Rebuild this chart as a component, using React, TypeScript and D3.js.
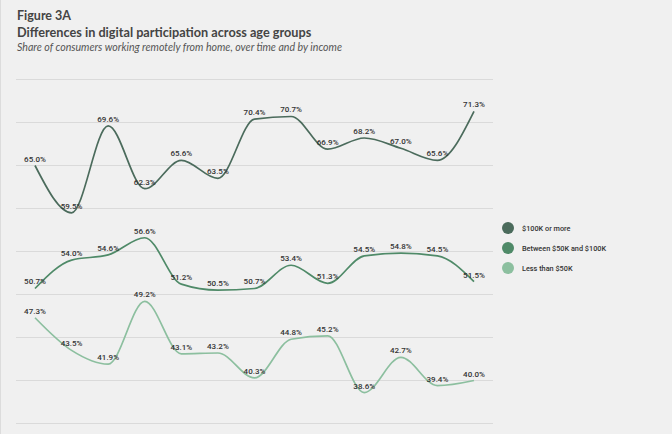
import React from "react";
import * as d3 from "d3";

const periods = d3.range(13);
const high = [65.0, 59.5, 69.6, 62.3, 65.6, 63.5, 70.4, 70.7, 66.9, 68.2, 67.0, 65.6, 71.3];
const mid = [50.7, 54.0, 54.6, 56.6, 51.2, 50.5, 50.7, 53.4, 51.3, 54.5, 54.8, 54.5, 51.5];
const low = [47.3, 43.5, 41.9, 49.2, 43.1, 43.2, 40.3, 44.8, 45.2, 38.6, 42.7, 39.4, 40.0];
const seriesNames = ["$100K or more", "Between $50K and $100K", "Less than $50K"];
const seriesColors = ["#4b6b5c", "#4f8a68", "#8cbf9f"];
const gridTicks = [35, 40, 45, 50, 55, 60, 65, 70, 75];

const W = 672;
const H = 434;

export default function App() {
  const x = d3.scaleLinear().domain([0, 12]).range([35, 474]);
  const y = d3.scaleLinear().domain([35, 75]).range([423.5, 79.5]);
  const line = d3
    .line<number>()
    .x((_, i) => x(periods[i]))
    .y((d) => y(d))
    .curve(d3.curveMonotoneX);
  const all = [high, mid, low];
  return (
    <div style={{ position: "fixed", left: 0, top: 0 }}>
      <svg width={W} height={H} style={{ display: "block" }}>
        <rect width={W} height={H} fill="#f0f0f0" />
        <rect x={0} y={0} width={1} height={H} fill="#dcdcdc" />
        <text x={17} y={20} fontFamily="Lato" fontWeight={700} fontSize={12.5} fill="#444">
          Figure 3A
        </text>
        <text x={17} y={37} fontFamily="Lato" fontWeight={700} fontSize={12.7} fill="#444">
          Differences in digital participation across age groups
        </text>
        <text x={17} y={51} fontFamily="Lato" fontStyle="italic" fontSize={10.6} fill="#555">
          Share of consumers working remotely from home, over time and by income
        </text>
        {gridTicks.map((t) => (
          <line key={t} x1={16} x2={493} y1={y(t)} y2={y(t)} stroke="#dadada" strokeWidth={1} />
        ))}
        {all.map((s, si) => (
          <path key={si} d={line(s) || ""} fill="none" stroke={seriesColors[si]} strokeWidth={1.7} />
        ))}
        {all.map((s, si) =>
          s.map((v, i) => (
            <text
              key={si + "-" + i}
              x={x(periods[i])}
              y={y(v) - 4}
              textAnchor="middle"
              fontFamily="Roboto"
              fontWeight={500}
              fontSize={8}
              fill="#333"
            >
              {v.toFixed(1)}%
            </text>
          ))
        )}
        {seriesNames.map((n, i) => (
          <g key={n} transform={`translate(508, ${228 + i * 20})`}>
            <circle r={6} fill={seriesColors[i]} />
            <text x={14} y={2.5} fontFamily="Roboto" fontWeight={500} fontSize={7.3} fill="#333">
              {n}
            </text>
          </g>
        ))}
      </svg>
    </div>
  );
}
